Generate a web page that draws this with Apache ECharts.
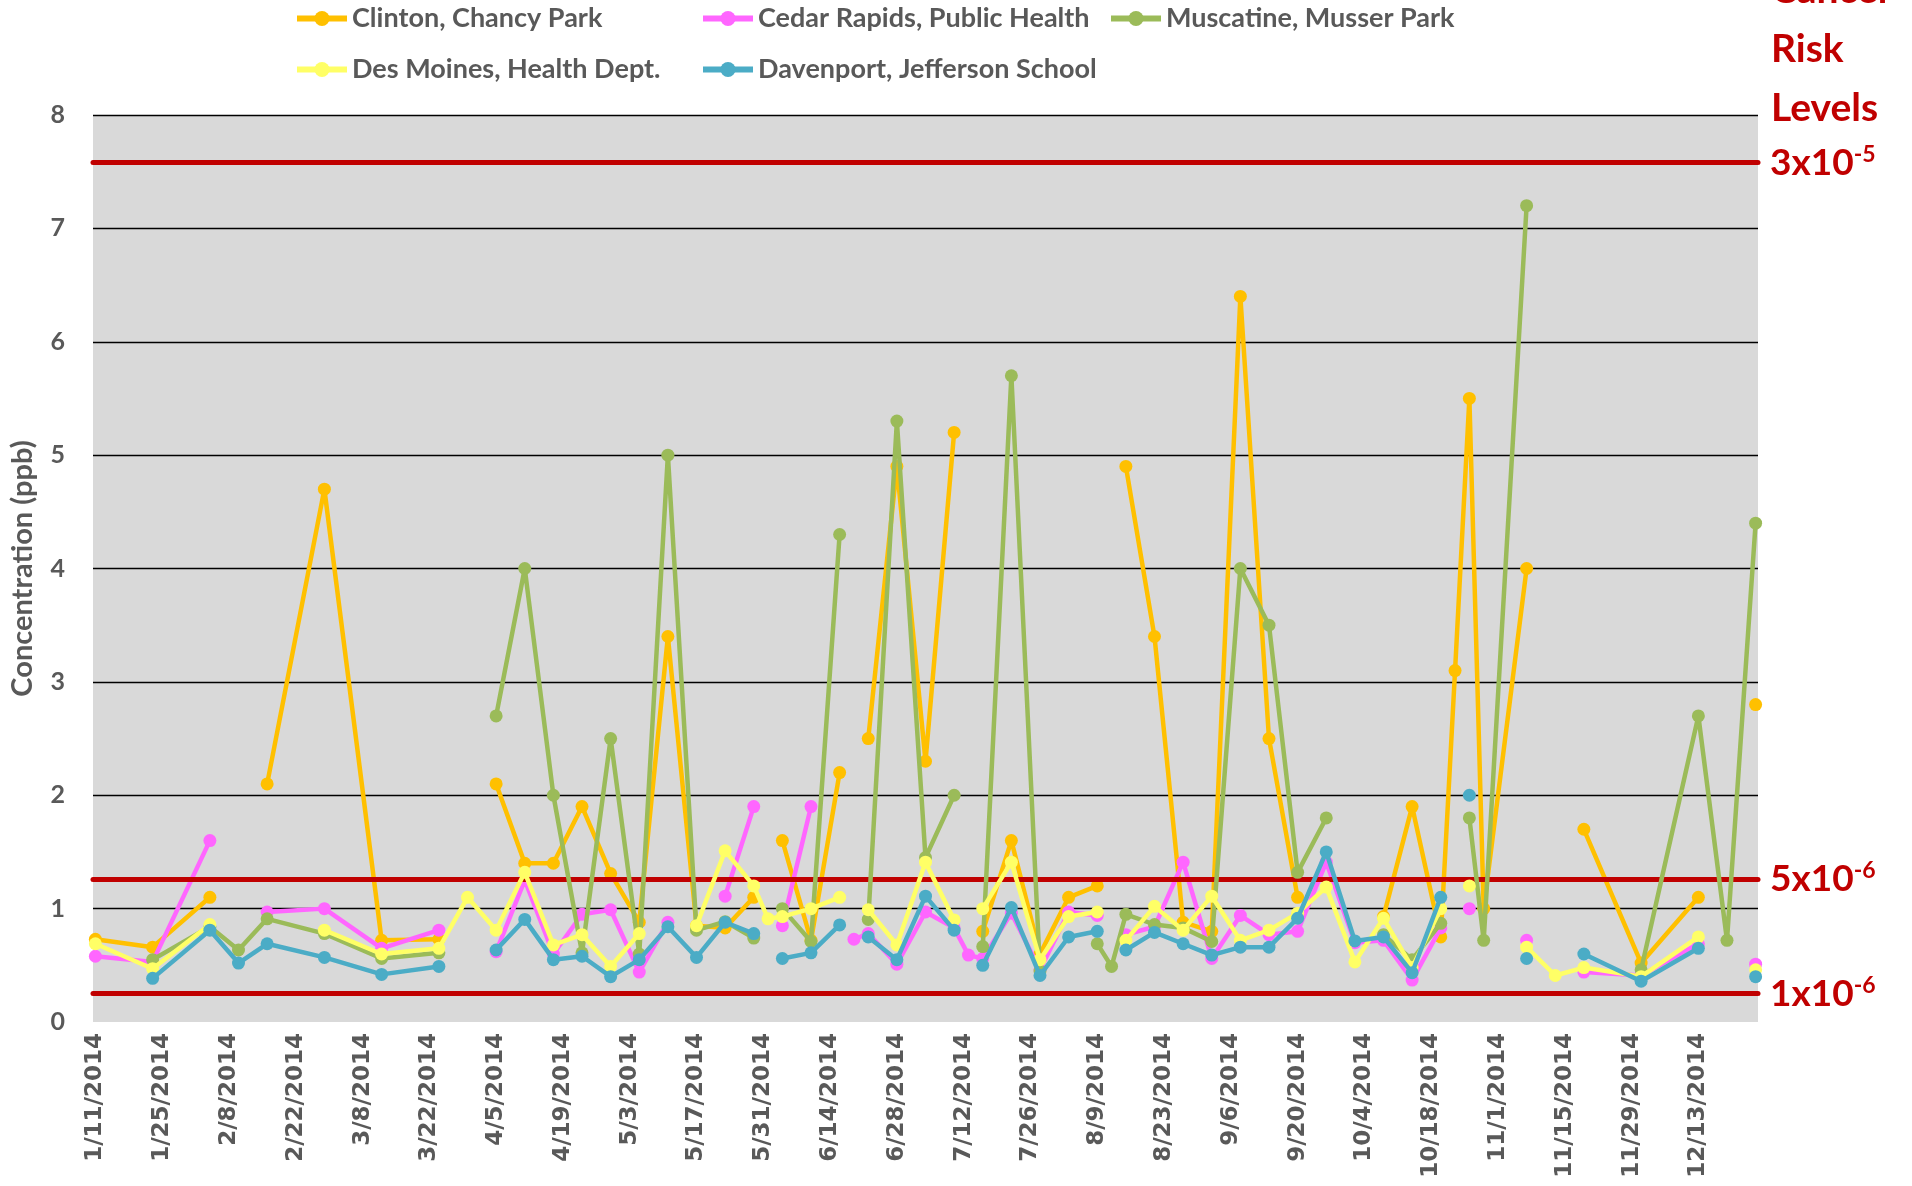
<!DOCTYPE html>
<html>
<head>
<meta charset="utf-8">
<script src="https://cdn.jsdelivr.net/npm/echarts@6/dist/echarts.min.js"></script>
<style>
  html, body { margin: 0; padding: 0; background: #fff; }
  #chart { width: 1912px; height: 1186px; }
</style>
</head>
<body>
<div id="chart"></div>
<script>
// sample dates (union of all sites), values in ppb, null = no sample
const dates = [
  '1/11/2014', '1/23/2014', '2/4/2014', '2/10/2014', '2/16/2014', '2/28/2014', '3/12/2014', '3/24/2014', '3/30/2014',
  '4/5/2014', '4/11/2014', '4/17/2014', '4/23/2014', '4/29/2014', '5/5/2014', '5/11/2014', '5/17/2014', '5/23/2014',
  '5/29/2014', '6/1/2014', '6/4/2014', '6/10/2014', '6/16/2014', '6/19/2014', '6/22/2014', '6/28/2014', '7/4/2014',
  '7/10/2014', '7/13/2014', '7/16/2014', '7/22/2014', '7/28/2014', '8/3/2014', '8/9/2014', '8/12/2014', '8/15/2014',
  '8/21/2014', '8/27/2014', '9/2/2014', '9/8/2014', '9/14/2014', '9/20/2014', '9/26/2014', '10/2/2014', '10/8/2014',
  '10/14/2014', '10/20/2014', '10/23/2014', '10/26/2014', '10/29/2014', '11/7/2014', '11/13/2014', '11/19/2014',
  '12/1/2014', '12/13/2014', '12/19/2014', '12/25/2014'
];
const clinton = [
  0.73, 0.66, 1.1, null, 2.1, 4.7, 0.72, 0.73, null,
  2.1, 1.4, 1.4, 1.9, 1.31, 0.88, 3.4, 0.85, 0.83,
  1.1, null, 1.6, 0.72, 2.2, null, 2.5, 4.9, 2.3,
  5.2, null, 0.8, 1.6, 0.6, 1.1, 1.2, null, 4.9,
  3.4, 0.88, 0.8, 6.4, 2.5, 1.1, null, null, 0.93,
  1.9, 0.75, 3.1, 5.5, 1.0, 4.0, null, 1.7,
  0.52, 1.1, null, 2.8
];
const cedarRapids = [
  0.58, 0.53, 1.6, null, 0.97, 1.0, 0.65, 0.81, null,
  0.62, 1.25, 0.6, 0.95, 0.99, 0.44, 0.88, null, 1.11,
  1.9, null, 0.85, 1.9, null, 0.73, 0.78, 0.51, 0.97,
  0.83, 0.59, 0.56, 0.96, 0.46, 0.97, 0.94, null, 0.77,
  0.84, 1.41, 0.56, 0.94, 0.77, 0.8, 1.41, 0.7, 0.72,
  0.37, 0.83, null, 1.0, null, 0.72, null, 0.44,
  0.41, 0.69, null, 0.51
];
const muscatine = [
  null, 0.55, 0.84, 0.635, 0.91, 0.78, 0.56, 0.61, null,
  2.7, 4.0, 2.0, 0.61, 2.5, 0.6, 5.0, 0.81, 0.885,
  0.74, null, 1.0, 0.71, 4.3, null, 0.905, 5.3, 1.45,
  2.0, null, 0.665, 5.7, 0.45, null, 0.69, 0.49, 0.95,
  0.86, 0.83, 0.71, 4.0, 3.5, 1.32, 1.8, null, 0.77,
  0.55, 0.87, null, 1.8, 0.72, 7.2, null, null,
  0.46, 2.7, 0.72, 4.4
];
const desMoines = [
  0.69, 0.47, 0.86, null, null, 0.81, 0.6, 0.65, 1.1,
  0.81, 1.32, 0.68, 0.77, 0.49, 0.78, null, 0.85, 1.51,
  1.2, 0.91, 0.93, 1.0, 1.1, null, 0.99, 0.68, 1.41,
  0.9, null, 1.0, 1.41, 0.55, 0.93, 0.97, null, 0.72,
  1.02, 0.81, 1.11, 0.72, 0.81, 0.96, 1.19, 0.53, 0.915,
  0.48, 1.0, null, 1.2, null, 0.66, 0.41, 0.48,
  0.4, 0.75, null, 0.46
];
const davenport = [
  null, 0.385, 0.81, 0.52, 0.69, 0.57, 0.42, 0.49, null,
  0.635, 0.905, 0.55, 0.58, 0.4, 0.55, 0.84, 0.57, 0.88,
  0.78, null, 0.56, 0.61, 0.856, null, 0.75, 0.55, 1.11,
  0.81, null, 0.5, 1.01, 0.41, 0.75, 0.8, null, 0.635,
  0.79, 0.69, 0.59, 0.66, 0.66, 0.915, 1.5, 0.715, 0.75,
  0.435, 1.1, null, 2.0, null, 0.56, null, 0.6,
  0.36, 0.65, null, 0.4
];
const siteNames = [
  'Clinton, Chancy Park', 'Cedar Rapids, Public Health', 'Muscatine, Musser Park',
  'Des Moines, Health Dept.', 'Davenport, Jefferson School'
];
const tickLabels = [
  '1/11/2014', '1/25/2014', '2/8/2014', '2/22/2014', '3/8/2014', '3/22/2014', '4/5/2014', '4/19/2014',
  '5/3/2014', '5/17/2014', '5/31/2014', '6/14/2014', '6/28/2014', '7/12/2014', '7/26/2014', '8/9/2014',
  '8/23/2014', '9/6/2014', '9/20/2014', '10/4/2014', '10/18/2014', '11/1/2014', '11/15/2014', '11/29/2014',
  '12/13/2014'
];
const riskLevels = [7.58, 1.26, 0.25];
const riskBase = ['3x10', '5x10', '1x10'];
const riskExp = ['-5', '-6', '-6'];
const riskTitle = ['Cancer', 'Risk', 'Levels'];

const colors = ['#FFC000', '#FF66FF', '#9BBB59', '#FFFF66', '#4BACC6'];
const legendPos = [[289, 0], [695, 0], [1103, 0], [289, 51], [695, 51]];
const gray = '#595959';
const red = '#C00000';
const fam = 'Lato, "Open Sans", sans-serif';

const t0 = Date.UTC(2014, 0, 11);
function dayOff(s) {
  const p = s.split('/').map(Number);
  return (Date.UTC(p[2], p[0] - 1, p[1]) - t0) / 864e5;
}
function fmtDay(v) {
  const d = new Date(t0 + Math.round(v) * 864e5);
  return (d.getUTCMonth() + 1) + '/' + d.getUTCDate() + '/' + d.getUTCFullYear();
}

const dayX = dates.map(dayOff);
const allSeries = [clinton, cedarRapids, muscatine, desMoines, davenport];

var chartDom = document.getElementById('chart');
var myChart = echarts.init(chartDom);
var option;

option = {
  animation: false,
  grid: {
    left: 93, right: 154, top: 115, bottom: 164,
    show: true, backgroundColor: '#D9D9D9', borderWidth: 0
  },
  legend: siteNames.map((n, i) => ({
    data: [n],
    left: legendPos[i][0],
    top: legendPos[i][1],
    itemWidth: 50,
    itemHeight: 19,
    itemGap: 8,
    selectedMode: false,
    lineStyle: { width: 6 },
    textStyle: { color: gray, fontSize: 27, fontWeight: 'bold', fontFamily: fam }
  })),
  xAxis: {
    type: 'value',
    min: -0.5,
    max: 348.5,
    axisLine: { show: false },
    axisTick: { show: false },
    splitLine: { show: false },
    axisLabel: {
      customValues: tickLabels.map(dayOff),
      formatter: fmtDay,
      rotate: 90,
      margin: 11,
      color: gray,
      fontSize: 23,
      fontWeight: 'bold',
      fontFamily: '"DejaVu Sans", Verdana, sans-serif'
    }
  },
  yAxis: {
    type: 'value',
    min: 0,
    max: 8,
    interval: 1,
    name: 'Concentration (ppb)',
    nameLocation: 'middle',
    nameGap: 56,
    nameTextStyle: { color: gray, fontSize: 29, fontWeight: 'bold', fontFamily: fam },
    axisLine: { show: false },
    axisTick: { show: false },
    axisLabel: { color: gray, fontSize: 25, fontWeight: 'bold', fontFamily: fam, margin: 28 },
    splitLine: {
      lineStyle: {
        color: ['rgba(0,0,0,0)', '#000', '#000', '#000', '#000', '#000', '#000', '#000', '#000'],
        width: 1.3
      }
    }
  },
  graphic: riskTitle.map((t, i) => ({
    type: 'text',
    x: 1771,
    y: -10 + i * 59,
    style: {
      text: t,
      fill: red,
      fontSize: 39,
      fontWeight: 'bold',
      fontFamily: fam,
      verticalAlign: 'middle'
    }
  })),
  series: [
    {
      type: 'line',
      data: [],
      z: 1,
      silent: true,
      markLine: {
        silent: true,
        symbol: 'none',
        animation: false,
        lineStyle: { color: red, width: 5, type: 'solid', cap: 'round' },
        emphasis: { disabled: true },
        label: {
          position: 'end',
          distance: 12,
          rich: {
            b: { color: red, fontSize: 37, fontWeight: 'bold', fontFamily: fam, lineHeight: 40 },
            s: { color: red, fontSize: 23, fontWeight: 'bold', fontFamily: fam, verticalAlign: 'top', lineHeight: 40, padding: [0, 0, 18, 0] }
          }
        },
        data: riskLevels.map((v, i) => ({
          yAxis: v,
          label: { formatter: '{b|' + riskBase[i] + '}{s|' + riskExp[i] + '}' }
        }))
      }
    }
  ].concat(allSeries.map((vals, i) => ({
    name: siteNames[i],
    type: 'line',
    z: 3 + i,
    data: vals.map((v, j) => [dayX[j], v === null ? '-' : v]),
    connectNulls: false,
    symbol: 'circle',
    symbolSize: 13,
    showAllSymbol: true,
    lineStyle: { color: colors[i], width: 4.5 },
    itemStyle: { color: colors[i] },
    emphasis: { disabled: true }
  })))
};

option && myChart.setOption(option);
</script>
</body>
</html>
